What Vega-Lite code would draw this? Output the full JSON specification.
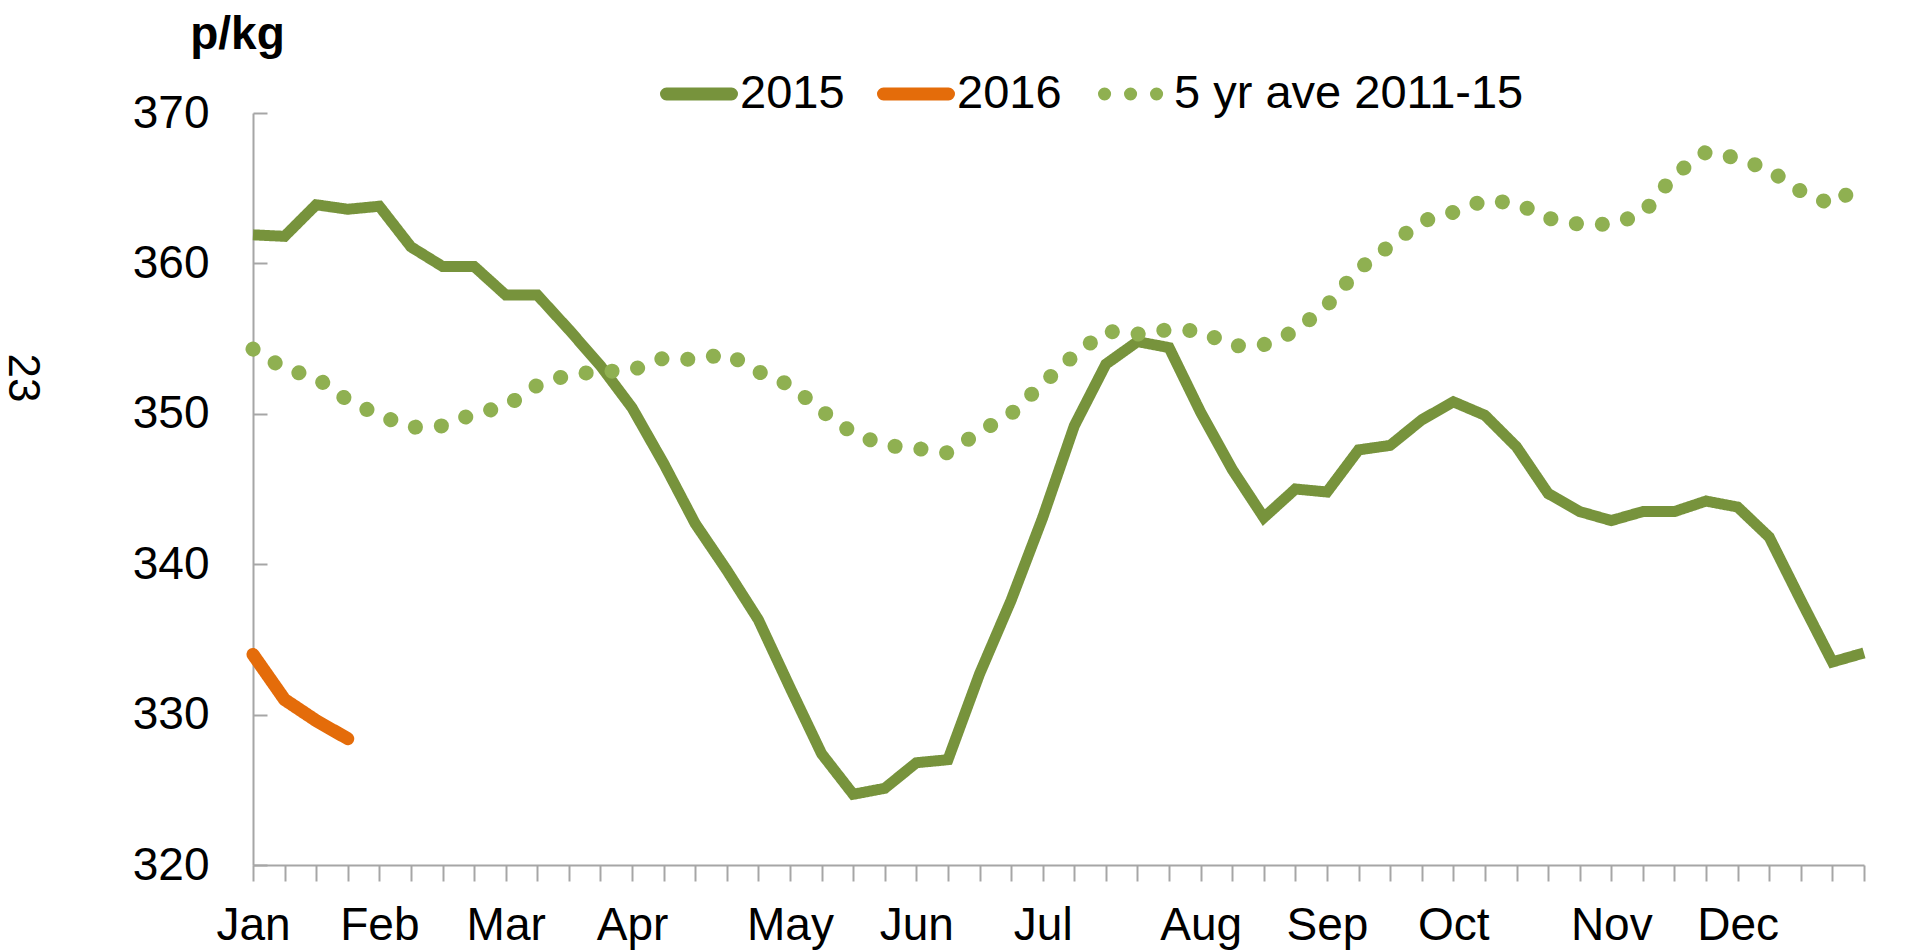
{
  "$schema": "https://vega.github.io/schema/vega-lite/v6.json",
  "width": 1611,
  "height": 752,
  "autosize": {"type": "none"},
  "padding": {"left": 253, "top": 113, "right": 55, "bottom": 86},
  "background": "white",
  "config": {"view": {"stroke": null}, "font": "Liberation Sans"},
  "title": {"text": "23", "orient": "left", "anchor": "middle", "angle": 90, "fontSize": 44, "fontWeight": "normal", "font": "Liberation Sans", "color": "#000000", "offset": 44, "dx": -111},
  "data": {"values": [
    {"week":0,"series":"2015","value":361.9},{"week":1,"series":"2015","value":361.8},{"week":2,"series":"2015","value":363.9},{"week":3,"series":"2015","value":363.6},{"week":4,"series":"2015","value":363.8},{"week":5,"series":"2015","value":361.1},{"week":6,"series":"2015","value":359.8},{"week":7,"series":"2015","value":359.8},{"week":8,"series":"2015","value":357.9},{"week":9,"series":"2015","value":357.9},
    {"week":10,"series":"2015","value":355.6},{"week":11,"series":"2015","value":353.2},{"week":12,"series":"2015","value":350.4},{"week":13,"series":"2015","value":346.7},{"week":14,"series":"2015","value":342.7},{"week":15,"series":"2015","value":339.6},{"week":16,"series":"2015","value":336.3},{"week":17,"series":"2015","value":331.8},{"week":18,"series":"2015","value":327.4},{"week":19,"series":"2015","value":324.7},
    {"week":20,"series":"2015","value":325.1},{"week":21,"series":"2015","value":326.8},{"week":22,"series":"2015","value":327.0},{"week":23,"series":"2015","value":332.7},{"week":24,"series":"2015","value":337.6},{"week":25,"series":"2015","value":343.1},{"week":26,"series":"2015","value":349.2},{"week":27,"series":"2015","value":353.3},{"week":28,"series":"2015","value":354.8},{"week":29,"series":"2015","value":354.4},
    {"week":30,"series":"2015","value":350.1},{"week":31,"series":"2015","value":346.3},{"week":32,"series":"2015","value":343.1},{"week":33,"series":"2015","value":345.0},{"week":34,"series":"2015","value":344.8},{"week":35,"series":"2015","value":347.6},{"week":36,"series":"2015","value":347.9},{"week":37,"series":"2015","value":349.6},{"week":38,"series":"2015","value":350.8},{"week":39,"series":"2015","value":349.9},
    {"week":40,"series":"2015","value":347.8},{"week":41,"series":"2015","value":344.7},{"week":42,"series":"2015","value":343.5},{"week":43,"series":"2015","value":342.9},{"week":44,"series":"2015","value":343.5},{"week":45,"series":"2015","value":343.5},{"week":46,"series":"2015","value":344.2},{"week":47,"series":"2015","value":343.8},{"week":48,"series":"2015","value":341.8},{"week":49,"series":"2015","value":337.6},
    {"week":50,"series":"2015","value":333.5},{"week":51,"series":"2015","value":334.1},
    {"week":0,"series":"2016","value":334.0},{"week":1,"series":"2016","value":331.0},{"week":2,"series":"2016","value":329.6},{"week":3,"series":"2016","value":328.4},
    {"week":0,"series":"5 yr ave 2011-15","value":354.3},{"week":1,"series":"5 yr ave 2011-15","value":353.0},{"week":2,"series":"5 yr ave 2011-15","value":352.4},{"week":3,"series":"5 yr ave 2011-15","value":350.9},{"week":4,"series":"5 yr ave 2011-15","value":349.9},{"week":5,"series":"5 yr ave 2011-15","value":349.1},{"week":6,"series":"5 yr ave 2011-15","value":349.2},{"week":7,"series":"5 yr ave 2011-15","value":350.0},{"week":8,"series":"5 yr ave 2011-15","value":350.5},{"week":9,"series":"5 yr ave 2011-15","value":351.9},
    {"week":10,"series":"5 yr ave 2011-15","value":352.6},{"week":11,"series":"5 yr ave 2011-15","value":352.8},{"week":12,"series":"5 yr ave 2011-15","value":352.9},{"week":13,"series":"5 yr ave 2011-15","value":353.7},{"week":14,"series":"5 yr ave 2011-15","value":353.6},{"week":15,"series":"5 yr ave 2011-15","value":354.0},{"week":16,"series":"5 yr ave 2011-15","value":352.8},{"week":17,"series":"5 yr ave 2011-15","value":351.9},{"week":18,"series":"5 yr ave 2011-15","value":350.2},{"week":19,"series":"5 yr ave 2011-15","value":348.7},
    {"week":20,"series":"5 yr ave 2011-15","value":347.9},{"week":21,"series":"5 yr ave 2011-15","value":347.7},{"week":22,"series":"5 yr ave 2011-15","value":347.4},{"week":23,"series":"5 yr ave 2011-15","value":348.8},{"week":24,"series":"5 yr ave 2011-15","value":350.0},{"week":25,"series":"5 yr ave 2011-15","value":352.0},{"week":26,"series":"5 yr ave 2011-15","value":353.9},{"week":27,"series":"5 yr ave 2011-15","value":355.5},{"week":28,"series":"5 yr ave 2011-15","value":355.3},{"week":29,"series":"5 yr ave 2011-15","value":355.6},
    {"week":30,"series":"5 yr ave 2011-15","value":355.5},{"week":31,"series":"5 yr ave 2011-15","value":354.5},{"week":32,"series":"5 yr ave 2011-15","value":354.6},{"week":33,"series":"5 yr ave 2011-15","value":355.5},{"week":34,"series":"5 yr ave 2011-15","value":357.2},{"week":35,"series":"5 yr ave 2011-15","value":359.6},{"week":36,"series":"5 yr ave 2011-15","value":361.2},{"week":37,"series":"5 yr ave 2011-15","value":362.8},{"week":38,"series":"5 yr ave 2011-15","value":363.4},{"week":39,"series":"5 yr ave 2011-15","value":364.2},
    {"week":40,"series":"5 yr ave 2011-15","value":364.0},{"week":41,"series":"5 yr ave 2011-15","value":363.0},{"week":42,"series":"5 yr ave 2011-15","value":362.6},{"week":43,"series":"5 yr ave 2011-15","value":362.6},{"week":44,"series":"5 yr ave 2011-15","value":363.3},{"week":45,"series":"5 yr ave 2011-15","value":365.9},{"week":46,"series":"5 yr ave 2011-15","value":367.4},{"week":47,"series":"5 yr ave 2011-15","value":367.0},{"week":48,"series":"5 yr ave 2011-15","value":366.2},{"week":49,"series":"5 yr ave 2011-15","value":364.8},
    {"week":50,"series":"5 yr ave 2011-15","value":363.9},{"week":51,"series":"5 yr ave 2011-15","value":365.4}
  ]},
  "encoding": {
    "x": {
      "field": "week", "type": "quantitative",
      "scale": {"domain": [0, 51], "nice": false, "zero": false},
      "axis": {
        "title": null, "grid": false,
        "values": [0,1,2,3,4,5,6,7,8,9,10,11,12,13,14,15,16,17,18,19,20,21,22,23,24,25,26,27,28,29,30,31,32,33,34,35,36,37,38,39,40,41,42,43,44,45,46,47,48,49,50,51],
        "labelExpr": "['Jan','','','','Feb','','','','Mar','','','','Apr','','','','','May','','','','Jun','','','','Jul','','','','','Aug','','','','Sep','','','','Oct','','','','','Nov','','','','Dec','','','',''][datum.value]",
        "domainColor": "#A6A6A6", "domainWidth": 2, "tickColor": "#A6A6A6", "tickWidth": 2, "tickSize": 16,
        "labelFontSize": 46, "labelFont": "Liberation Sans", "labelColor": "#000000", "labelPadding": 22,
        "labelOverlap": false, "labelFlush": false, "labelBound": false, "labelAngle": 0
      }
    },
    "y": {
      "field": "value", "type": "quantitative",
      "scale": {"domain": [320, 370], "nice": false, "zero": false},
      "axis": {
        "values": [320,330,340,350,360,370], "grid": false,
        "domainColor": "#A6A6A6", "domainWidth": 2, "tickColor": "#A6A6A6", "tickWidth": 2, "tickSize": -14,
        "labelFontSize": 46, "labelFont": "Liberation Sans", "labelColor": "#000000", "labelPadding": 58,
        "title": "p/kg", "titleAngle": 0, "titleFontSize": 46, "titleFontWeight": "bold", "titleFont": "Liberation Sans",
        "titleColor": "#000000", "titleX": -16, "titleY": -65, "titleAlign": "center", "titleBaseline": "alphabetic"
      }
    },
    "color": {
      "field": "series", "type": "nominal",
      "scale": {"domain": ["2015", "2016", "5 yr ave 2011-15"], "range": ["#77933C", "#E46C0A", "#8FB051"]},
      "legend": {"title": null, "orient": "none", "legendX": 407, "legendY": -58, "direction": "horizontal", "columns": 3,
        "symbolType": "stroke", "symbolSize": 4225, "symbolStrokeWidth": 13, "symbolDashOffset": -4,
        "labelFontSize": 47, "labelFont": "Liberation Sans", "labelColor": "#000000", "labelOffset": 2, "labelLimit": 1000,
        "columnPadding": 12, "padding": 0,
        "encode": {"symbols": {"update": {"strokeCap": {"value": "round"}}}}}
    },
    "strokeDash": {
      "field": "series", "type": "nominal",
      "scale": {"domain": ["2015", "2016", "5 yr ave 2011-15"], "range": [[1, 0], [1, 0], [0.1, 25.9]]},
      "legend": {"title": null, "orient": "none", "legendX": 407, "legendY": -58, "direction": "horizontal", "columns": 3,
        "symbolType": "stroke", "symbolSize": 4225, "symbolStrokeWidth": 13, "symbolDashOffset": -4,
        "labelFontSize": 47, "labelFont": "Liberation Sans", "labelColor": "#000000", "labelOffset": 2, "labelLimit": 1000,
        "columnPadding": 12, "padding": 0,
        "encode": {"symbols": {"update": {"strokeCap": {"value": "round"}}}}}
    }
  },
  "layer": [
    {"transform": [{"filter": "datum.series == '2015'"}], "mark": {"type": "line", "strokeWidth": 11, "strokeCap": "butt", "strokeJoin": "miter"}},
    {"transform": [{"filter": "datum.series == '2016'"}], "mark": {"type": "line", "strokeWidth": 13, "strokeCap": "round", "strokeJoin": "round"}},
    {"transform": [{"filter": "datum.series == '5 yr ave 2011-15'"}], "mark": {"type": "line", "strokeWidth": 15, "strokeCap": "round"}}
  ]
}
